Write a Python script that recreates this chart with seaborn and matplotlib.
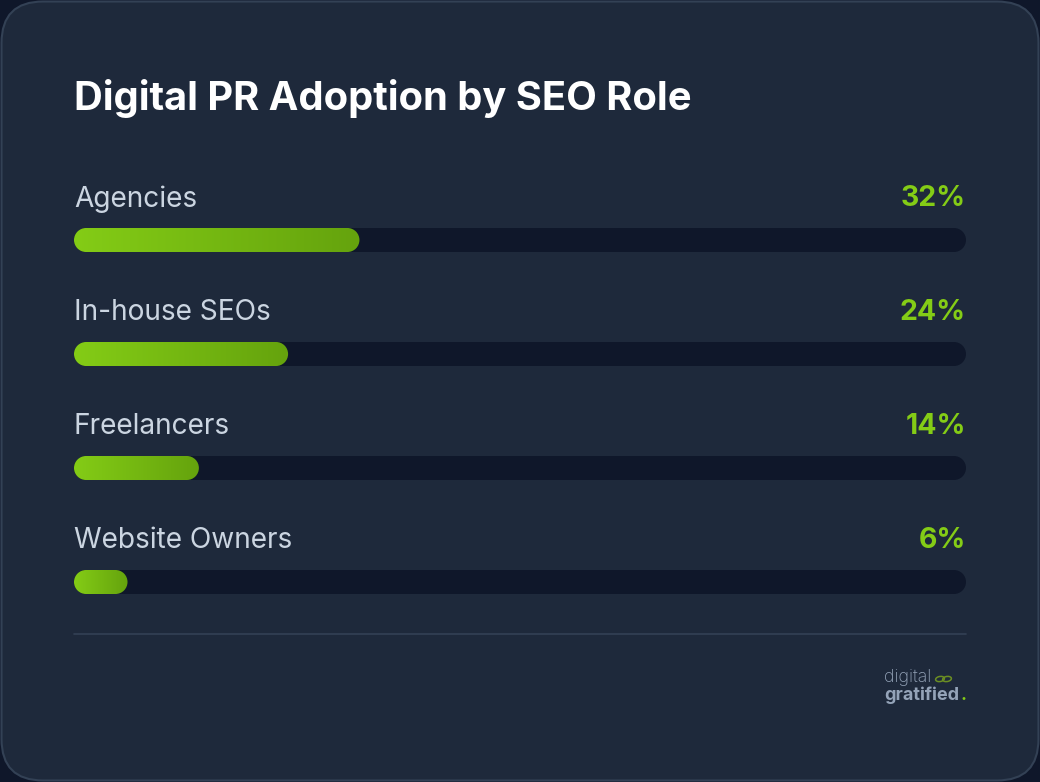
import numpy as np
import pandas as pd
import matplotlib
matplotlib.use('Agg')
import matplotlib.pyplot as plt
from matplotlib.patches import FancyBboxPatch, PathPatch, Ellipse
from matplotlib.path import Path
from matplotlib.transforms import Affine2D
from matplotlib.colors import LinearSegmentedColormap
import seaborn as sns

roles = ['Agencies', 'In-house SEOs', 'Freelancers', 'Website Owners']
adoption = [32, 24, 14, 6]
title = 'Digital PR Adoption by SEO Role'

df = pd.DataFrame({'role': roles, 'pct': adoption, 'full': [100] * len(roles)})

BG = '#0f172a'
CARD = '#1e293b'
TRACK = '#0f172a'
LIME = '#84cc16'
LIME_DARK = '#65a30d'
LABEL = '#cbd5e1'
LOGO = '#94a3b8'

sns.set_theme(style='white')
plt.rcParams['font.family'] = ['Inter', 'DejaVu Sans']

W, H = 1040, 782
fig = plt.figure(figsize=(W / 100, H / 100), dpi=100)
fig.patch.set_facecolor(BG)

# card background
card = FancyBboxPatch((1.5 / W, 1.5 / H), (W - 3) / W, (H - 3) / H,
                      boxstyle='round,pad=0,rounding_size=0.04',
                      mutation_aspect=W / H,
                      transform=fig.transFigure, facecolor=CARD,
                      edgecolor='#334155', linewidth=1.5, zorder=-5)
fig.patches.append(card)

# axes in pixel layout: x 74..966, y 126..640 (top..bottom)
x0, x1 = 74, 966
ytop, ybot = 126, 640
ax = fig.add_axes([x0 / W, 1 - ybot / H, (x1 - x0) / W, (ybot - ytop) / H])
ax.set_facecolor('none')

bar_h = 24 / 114
sns.barplot(data=df, y='role', x='full', orient='h', color=TRACK,
            width=bar_h, ax=ax, saturation=1)
sns.barplot(data=df, y='role', x='pct', orient='h', color=LIME,
            width=bar_h, ax=ax, saturation=1)

px_per_x = (x1 - x0) / 100
rx = 12 / px_per_x  # end-cap radius in x units (12 px)


def pill(x, y, w, h):
    # pill shape with true semicircular ends (elliptic in data units)
    ry = h / 2
    cy = y + ry
    left = Path.arc(90, 270).transformed(
        Affine2D().scale(rx, ry).translate(x + rx, cy))
    right = Path.arc(-90, 90).transformed(
        Affine2D().scale(rx, ry).translate(x + w - rx, cy))
    verts = np.concatenate([right.vertices, left.vertices, right.vertices[:1]])
    codes = np.concatenate([right.codes, [Path.LINETO], left.codes[1:],
                            [Path.CLOSEPOLY]])
    return Path(verts, codes)


cmap = LinearSegmentedColormap.from_list('lime', [LIME, LIME_DARK])
grad = np.linspace(0, 1, 256).reshape(1, -1)

patches = list(ax.patches)
for i, p in enumerate(patches):
    x, y = p.get_x(), p.get_y()
    w, h = p.get_width(), p.get_height()
    p.remove()
    is_track = i < len(roles)
    shape = PathPatch(pill(x, y, w, h),
                      facecolor=TRACK if is_track else 'none',
                      edgecolor='none', zorder=2 if is_track else 3)
    ax.add_patch(shape)
    if not is_track:
        im = ax.imshow(grad, cmap=cmap, extent=(x, x + w, y + h, y),
                       aspect='auto', zorder=3, interpolation='bilinear')
        im.set_clip_path(shape)

ax.set_xlim(0, 100)
ax.set_ylim(3 + 58 / 114, -1)

for i, (role, v) in enumerate(zip(roles, adoption)):
    ax.text(0, i - 41 / 114, role, ha='left', va='center',
            fontsize=20.2, color=LABEL)
    ax.text(100, i - 41 / 114, f'{v}%', ha='right', va='center',
            fontsize=20.5, color=LIME, fontweight='bold')

ax.axis('off')

# title
fig.text(x0 / W, 1 - 99 / H, title, ha='left', va='center',
         fontsize=28.7, fontweight='bold', color='white')

# divider
fig.add_artist(plt.Line2D([x0 / W, x1 / W], [1 - 634 / H, 1 - 634 / H],
                          color='#334155', linewidth=1.2))

# logo
fig.text(884 / W, 1 - 678 / H, 'digital', ha='left', va='center',
         fontsize=12.8, color=LOGO, fontweight='light')
fig.text(884 / W, 1 - 695 / H, 'gratified', ha='left', va='center',
         fontsize=13, color=LOGO, fontweight='bold')
fig.text(961 / W, 1 - 695 / H, '.', ha='left', va='center',
         fontsize=13, color=LIME, fontweight='bold')
for cx in (940, 947):
    fig.add_artist(Ellipse((cx / W, 1 - 679 / H), 9 / W, 5 / H, angle=20,
                           transform=fig.transFigure, facecolor='none',
                           edgecolor='#6b8e23', linewidth=1.1))

fig.savefig('out.png', dpi=100, facecolor=BG)
